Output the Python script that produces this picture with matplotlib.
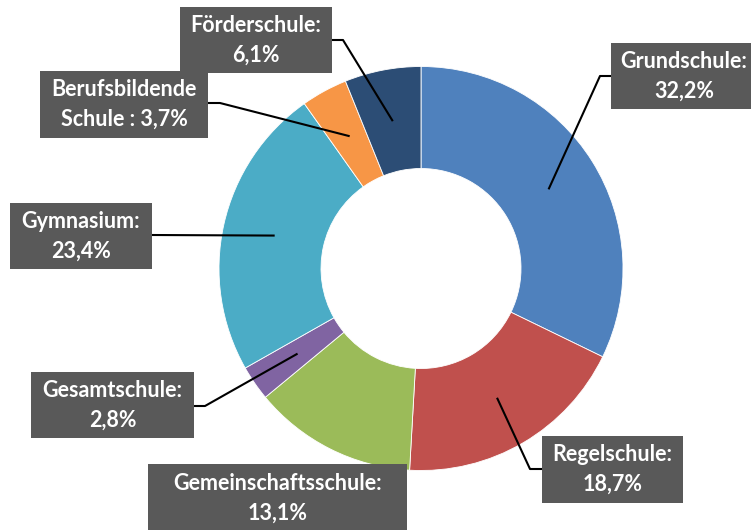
import numpy as np
import matplotlib.pyplot as plt
from matplotlib.patches import Rectangle

# share of pupils per school type (%)
schools = ['Grundschule', 'Regelschule', 'Gemeinschaftsschule', 'Gesamtschule',
           'Gymnasium', 'Berufsbildende Schule', 'Förderschule']
shares = [32.2, 18.7, 13.1, 2.8, 23.4, 3.7, 6.1]
labels = ['Grundschule:\n32,2%', 'Regelschule:\n18,7%', 'Gemeinschaftsschule:\n13,1%',
          'Gesamtschule:\n2,8%', 'Gymnasium:\n23,4%', 'Berufsbildende\nSchule : 3,7%',
          'Förderschule:\n6,1%']
colors = ['#4F81BD', '#C0504D', '#9BBB59', '#8064A2', '#4BACC6', '#F79646', '#2C4D75']

W, H = 751, 530
# label boxes in pixels from top-left: x0, y0, x1, y1, elbow (or None)
boxes = [(611, 43, 760, 109, (600, 76)),
         (542, 436, 683, 503, (530, 469)),
         (148, 464, 407, 540, None),
         (31, 372, 194, 438, (205, 406)),
         (10, 203, 152, 269, (152, 235)),
         (40, 71, 208, 138, (220, 103)),
         (180, 7, 332, 73, (343, 40))]
text_centers = [(684, 76), None, (278, 498), None, None, None, None]

fig = plt.figure(figsize=(W / 100, H / 100), dpi=100)
ax = fig.add_axes([0, 0, 1, 1])

cx, cy, R = 421, H - 268.5, 202
wedges, _ = ax.pie(shares, colors=colors, startangle=90, counterclock=False,
                   radius=R, center=(cx, cy), frame=True,
                   wedgeprops=dict(width=R - 100, edgecolor='white', linewidth=0.6))
ax.set_xlim(0, W)
ax.set_ylim(0, H)
ax.set_aspect('equal')
ax.axis('off')

for i, w in enumerate(wedges):
    mid = np.deg2rad((w.theta1 + w.theta2) / 2)
    px, py = cx + (R - 51) * np.cos(mid), cy + (R - 51) * np.sin(mid)
    x0, y0, x1, y1, elbow = boxes[i]
    ax.add_patch(Rectangle((x0, H - y1), x1 - x0, y1 - y0, facecolor='#595959',
                           edgecolor='none', zorder=3))
    if elbow is not None:
        ex, ey = elbow
        bx = x0 if ex <= x0 else x1
        ax.plot([px, ex, bx], [py, H - ey, H - ey], color='black', lw=1.5, zorder=2)
    if text_centers[i] is not None:
        tx, ty = text_centers[i]
    else:
        tx, ty = (x0 + x1) / 2, (y0 + y1) / 2
    ax.text(tx, H - ty, labels[i], ha='center', va='center', color='white',
            fontsize=15.5, fontweight='bold', family='Lato', linespacing=1.5, zorder=4)

fig.savefig('out.png', dpi=100)
